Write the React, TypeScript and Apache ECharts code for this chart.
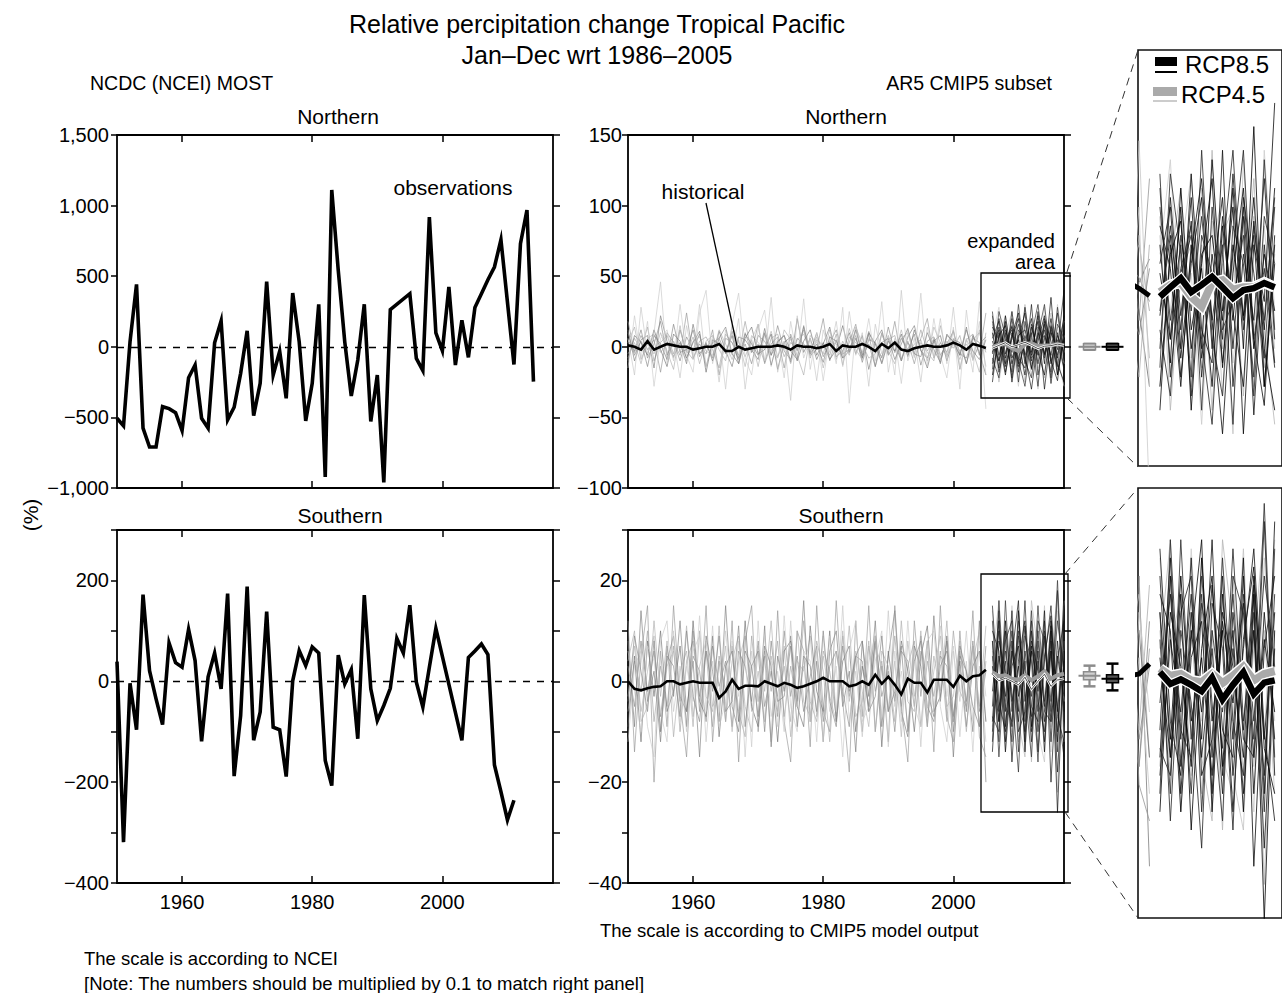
import React, { useEffect, useRef } from "react";
import * as echarts from "echarts";

const FONT = '"Liberation Sans", Arial, Helvetica, sans-serif';
const FIRST_YEAR = 1950;
const FUTURE_START = 2006;
const X_MIN = 1950;
const X_MAX = 2017;
const TICK_YEARS = [1960, 1980, 2000];

// ---------------- observations (NCDC / NCEI MOST) ----------------
const obsNorth = [
  -506, -560, 35, 442, -576, -710, -710, -424, -438, -466,
  -593, -219, -129, -506, -576, 28, 183, -518, -428, -188,
  113, -487, -259, 461, -200, -31, -365, 381, 35, -525,
  -259, 301, -922, 1111, 541, 35, -348, -94, 301, -529,
  -200, -960, 264, null, null, 376, -82, -169, 918, 99,
  -28, 424, -129, 188, -75, 278, 376, 475, 565, 758,
  null, -125, 730, 969, -247,
];
const obsSouth = [
  39, -319, -4, -96, 172, 21, -35, -86, 76, 37,
  28, 103, 41, -119, 9, 56, -15, 174, -188, -68,
  188, -117, -61, 138, -91, -96, -189, 1, 61, 31,
  68, 56, -157, -207, 52, -5, 23, -114, 171, -15,
  -78, -48, -14, 85, 56, 151, -2, -51, 28, 105,
  null, null, null, -117, 47, 60, 74, 53, -166, -219,
  -275, -236,
];

// ---------------- CMIP5 historical members, 1950-2005 ----------------
const histNorth = [
  [5,-3,12,-8,2,18,-6,4,-10,7,-2,9,-14,3,6,-5,11,-8,2,-12,8,4,-6,15,-3,-9,6,2,-4,10,-7,3,12,-5,-2,8,-11,5,3,-8,14,-4,6,-2,9,-13,4,7,-6,2,11,-5,-8,6,3,-2],
  [-8,6,-2,14,-10,3,8,-5,12,-3,-9,4,7,-2,-15,9,3,-6,18,-4,2,-11,6,9,-7,3,-2,12,-8,5,1,-6,9,-13,7,3,-4,11,-2,-7,5,8,-10,3,-5,12,-3,6,-9,4,-1,8,-12,5,10,-4],
  [12,-10,5,8,-15,22,4,-7,3,-12,16,-5,2,-8,11,-3,-14,7,5,-2,-9,13,-6,3,8,-11,20,-4,6,-9,2,14,-7,-3,10,-5,8,-16,4,12,-6,2,-10,7,15,-3,-8,5,-12,9,3,-6,14,-9,2,7],
  [-5,3,-12,6,9,-4,2,-8,15,-10,4,7,-3,-6,12,2,-9,5,-14,8,3,-2,11,-7,4,-12,5,9,-3,7,-15,4,2,-6,13,-2,-9,6,3,-11,8,-4,12,-6,2,5,-10,14,3,-7,6,-3,2,-9,12,-14],
  [18,-4,8,-2,5,-18,10,3,-6,24,-8,2,-5,12,-20,6,3,-9,10,-4,16,-12,2,7,-15,9,-3,14,-6,-2,20,-10,5,-8,3,16,-7,2,-14,10,-5,18,-9,4,-12,6,20,-8,3,-4,12,-16,5,9,-6,24],
  [-10,8,3,-6,12,-2,-14,9,4,-8,3,11,-18,5,2,-4,8,-12,6,14,-5,-2,9,-16,3,7,-10,4,12,-6,3,-9,-2,15,-4,6,-8,10,2,-12,4,-3,9,-7,12,-2,-15,4,8,-10,5,3,-12,8,-4,-20],
  [3,14,-9,2,-5,10,-3,-16,12,-4,7,-12,4,8,-2,-10,15,3,-7,5,-14,9,-2,-8,12,5,-6,-20,8,3,-5,12,-9,4,-6,14,2,-8,-5,9,-3,-12,6,10,-7,3,-4,-10,15,-6,2,-9,5,-3,-18,10],
  [6,-20,28,-5,10,46,-12,4,-22,15,-8,30,-15,8,-25,12,-6,20,-30,5,16,-10,35,-18,4,-38,22,-8,6,-24,12,-4,18,-14,25,-6,10,-28,16,-5,8,-20,40,-10,6,-25,14,-8,20,-12,28,-15,6,-18,32,-20],
  [-15,22,-8,18,-28,6,12,-10,30,-6,-18,24,40,-12,8,-30,16,38,-8,-20,12,26,-14,6,-22,18,-8,34,-16,10,-24,8,-12,28,-40,14,-6,20,-10,32,-18,6,-26,12,-8,38,-14,20,-6,-22,14,-30,26,-10,18,-44],
  [10,-6,4,-14,8,2,-9,16,-4,-2,12,-7,3,-10,6,14,-5,-12,9,2,-6,10,-13,4,8,-3,-9,15,-5,2,-11,7,4,-8,-3,12,-6,9,-14,3,6,-9,2,13,-5,-7,10,-2,-11,8,4,-6,12,-3,-9,5],
];
const histSouth = [
  [3,-5,8,-2,6,-7,4,9,-3,-6,5,2,-8,7,-1,4,-9,6,3,-4,8,-5,2,-7,10,-3,5,-6,1,7,-8,3,6,-2,-9,5,4,-6,8,-3,2,-10,6,4,-5,9,-2,-7,5,3,-8,6,-4,8,-6,2],
  [-6,4,-2,10,-8,3,-5,7,-10,4,8,-3,6,-9,5,-2,7,-6,-11,9,-4,6,-2,8,-7,3,-5,12,-4,-8,6,2,-7,9,-3,5,-10,7,-2,4,-6,9,-5,3,8,-9,4,-3,6,-8,10,-2,-5,7,-9,4],
  [8,-9,14,-4,2,-12,7,-3,12,-6,4,-15,9,2,-8,15,-5,-10,6,3,-7,11,-13,5,-2,9,-4,16,-8,4,-12,6,10,-5,2,-14,8,-3,12,-9,5,14,-6,-11,7,3,-9,13,-4,8,-15,5,2,-10,12,-20],
  [-3,7,-6,2,9,-10,3,6,-4,11,-7,3,8,-5,-2,7,-10,4,9,-6,2,-8,5,-3,7,-11,4,2,9,-7,5,-3,-8,10,-4,6,-2,-9,7,3,-6,4,-11,8,-3,6,-7,2,9,-5,-3,8,-6,4,10,-8],
  [12,-14,5,15,-20,6,-9,15,-4,-15,10,-6,15,-12,4,-8,12,-16,8,15,-10,5,-12,14,-8,-16,10,6,-13,15,-6,-10,16,-4,-18,12,-7,15,-10,3,-12,15,-5,-16,12,-3,8,-14,15,-7,-12,10,-6,14,-11,-15],
  [-9,5,-12,8,-3,10,-6,-2,7,-9,12,-4,-7,9,-11,3,6,-8,12,-5,-9,7,3,-12,6,8,-5,-9,11,-2,-6,10,-8,4,7,-10,3,-5,9,-13,6,-4,8,2,-10,5,11,-6,-3,9,-7,4,-9,3,6,-8],
  [4,10,-8,-5,12,-3,8,-11,2,6,-9,10,-3,-6,11,-8,4,9,-5,-10,7,-2,12,-6,3,-8,10,-4,-7,8,2,-12,6,-3,11,-7,-4,8,-10,6,3,-8,12,-4,-6,10,-9,5,-2,12,-8,3,-10,7,-5,11],
  [-12,3,6,-9,-15,8,12,-6,3,-10,6,9,-12,4,-6,10,-3,8,-15,6,-4,9,-7,2,-10,12,-5,3,-8,6,-12,9,-6,15,-8,2,-11,4,9,-7,14,-5,2,-9,6,-13,8,10,-5,-12,6,-4,10,-8,3,-12],
  [6,-2,-10,7,4,-6,-12,10,-8,3,-4,13,-6,11,-9,-4,8,-3,5,-13,12,-8,4,-9,13,-5,-10,6,4,-12,9,-6,3,-15,6,12,-8,-5,4,10,-13,6,-8,12,-5,-9,6,-6,11,-3,7,-11,4,-14,8,-3],
  [-4,9,2,-6,8,-10,5,3,-7,10,-3,-8,6,-2,9,-6,-4,11,-9,3,6,-10,8,-4,-3,7,-9,5,3,-6,10,-4,-9,7,-2,5,8,-6,-3,9,-6,-2,7,-10,4,8,-5,-8,3,6,-10,7,2,-5,-9,7],
];
const histMeanNorth = [1,0,-2,4,-2,0,2,1,0,0,-2,-1,0,0,2,-3,-3,0,-2,-1,0,0,0,1,0,-2,1,0,0,-1,0,2,-3,1,0,0,2,0,-3,2,-1,3,-2,-3,-1,0,1,0,0,1,3,1,-2,2,0.8,-0.8];
const histMeanSouth = [0,-1.5,-1.8,-1.4,-1.1,-1,0,0,-0.6,-0.3,0,-0.3,-0.3,-0.3,-3.3,-2,0.3,-1.5,-0.9,-0.9,-1,0,-0.5,-1,-0.3,-0.7,-1.3,-1,-0.5,0,0.7,0,0,0,-1,-0.7,0,-0.7,1.3,-0.5,0.9,-0.7,-2.6,0.5,-0.3,-0.3,-2.2,0.3,0.3,0.3,-1.1,1.1,0,1,1.2,2.3];

// ---------------- projections 2006-2017 ----------------
const rcp85North = [
  [10,-15,22,-8,5,-20,14,-6,18,-12,8,-4],
  [-12,20,-5,15,-18,8,-10,25,-6,12,-20,10],
  [18,-6,10,-22,12,4,-15,8,30,-10,5,-16],
  [-5,12,-18,6,20,-12,16,-4,-20,15,-8,22],
  [22,-10,5,14,-25,18,-8,-2,12,-22,16,6],
  [-20,8,15,-12,6,24,-16,10,-5,20,-12,-25],
  [6,18,-12,25,-8,-15,30,-20,8,-6,24,-10],
  [-8,-22,12,-4,16,-6,10,-28,20,4,-14,18],
  [14,5,-20,10,-12,28,-4,18,-30,10,-2,40],
  [-16,25,8,-18,30,-10,-22,14,6,-18,28,-8],
  [4,-10,18,-25,8,12,-6,22,-12,35,-20,6],
  [-4,14,-8,20,-14,2,20,-12,16,-26,10,-15],
  [25,-18,4,12,-10,-28,8,30,-8,14,-6,20],
  [-25,10,-14,8,24,-6,-30,4,22,-10,-24,12],
];
const rcp45North = [
  [12,-18,8,25,-10,15,-22,6,20,-8,14,-12],
  [-20,6,22,-14,10,-25,12,18,-6,24,-16,8],
  [8,28,-12,4,-28,10,20,-15,6,-20,30,-4],
  [-10,-4,16,-20,22,-8,6,-30,28,-12,4,18],
  [16,-25,4,10,-16,30,-12,8,-22,16,-8,-28],
];
const rcp85South = [
  [8,-6,12,-4,3,-10,7,-2,9,-8,5,-3],
  [-10,5,-3,10,-8,4,-12,8,-5,12,-6,8],
  [12,-8,4,-12,9,2,-7,15,-4,6,-10,10],
  [-5,14,-9,6,-3,11,-5,-8,12,-12,8,-6],
  [5,-12,16,-6,10,-8,14,-4,-10,8,-14,15],
  [-14,8,2,-9,14,-4,6,-14,5,13,-7,-12],
  [15,-4,-10,8,-6,16,-10,4,-12,6,-18,4],
  [-7,-10,8,12,-14,6,-3,10,-6,-8,18,-10],
  [10,6,-14,3,7,-12,10,-6,14,-20,4,12],
  [-12,16,-5,-8,12,-2,-15,12,8,-6,20,-8],
  [3,-8,10,-16,4,12,-9,6,-14,10,-26,6],
  [-2,10,-6,14,-10,-6,12,-10,4,15,-5,-15],
  [8,-15,6,-2,-18,9,4,-16,10,-4,12,2],
  [-8,12,-12,5,16,-14,8,2,-8,11,-12,18],
];
const rcp45South = [
  [6,-10,12,-6,8,-14,10,-4,15,-9,6,-12],
  [-9,12,-4,8,-12,6,-16,12,-6,10,-22,8],
  [14,-6,-8,15,-4,10,-8,-12,8,-14,14,-4],
  [-12,4,10,-10,14,-8,6,-10,-16,12,-6,16],
  [4,16,-14,6,-8,-15,16,6,-10,4,18,-10],
];
const rcp85MeanNorth = [-1,1,2.9,0,1.5,3.2,1,-1.3,0.4,0.8,1.9,1];
const rcp45MeanNorth = [0,1.5,2,-1,-3,2,2.5,0.5,1,1,2,1];
const rcp85MeanSouth = [1.4,0.1,0.6,0,-0.7,0.8,-1.6,0,1.4,-1.0,0.25,0.5];
const rcp45MeanSouth = [1.8,1.0,1.2,0.5,0.3,1.2,0.2,1.0,2.0,0.5,1.2,1.5];

// summary markers: [scenario, mean, whiskerLo, whiskerHi, boxLo, boxHi]
const markerScenarios = ["RCP4.5", "RCP8.5"];
const markersNorth = [
  [0, 0, -2.1, 2.1, -2.1, 2.1],
  [1, 0, -2.1, 2.1, -2.1, 2.1],
];
const markersSouth = [
  [0, 1.1, -1.0, 3.1, 0.3, 1.9],
  [1, 0.5, -1.8, 3.5, -0.3, 1.3],
];

const histColors = ["#8a8a8a", "#a2a2a2", "#7c7c7c", "#b4b4b4", "#959595", "#6f6f6f", "#adadad", "#c6c6c6", "#cbcbcb", "#858585"];
const rcp85Colors = ["#000", "#111", "#222", "#0a0a0a", "#2a2a2a"];
const rcp45Colors = ["#c2c2c2", "#b5b5b5", "#cccccc"];

const minus = (v: number) => (v < 0 ? "\u2212" : "") + Math.abs(v).toLocaleString("en-US");

function toPairs(vals: (number | null)[], start: number) {
  return vals.map((v, i) => [start + i, v]);
}

function buildOption() {
  const grids: any[] = [
    { left: 117, top: 135, width: 436, height: 353 },
    { left: 117, top: 530, width: 436, height: 353 },
    { left: 628, top: 135, width: 436, height: 353 },
    { left: 628, top: 530, width: 436, height: 353 },
    { left: 1138, top: 50, width: 159, height: 416, show: true, borderColor: "#111", borderWidth: 1.6 },
    { left: 1138, top: 488, width: 159, height: 430, show: true, borderColor: "#111", borderWidth: 1.6 },
    { left: 1078, top: 135, width: 46, height: 353 },
    { left: 1078, top: 530, width: 46, height: 353 },
  ];
  const xAxes: any[] = [];
  const yAxes: any[] = [];
  const axisLine = { show: true, onZero: false, lineStyle: { color: "#000", width: 1.8 } };
  const tickStyle = { color: "#000", width: 1.5 };
  const labelStyle = { color: "#000", fontSize: 20, fontFamily: FONT };

  function panel(grid: number, yMin: number, yMax: number, yInt: number, yFmt: (v: number) => string, showX: boolean, yMargin: number) {
    const xi = xAxes.length;
    xAxes.push({
      type: "value", gridIndex: grid, position: "bottom", min: X_MIN, max: X_MAX,
      axisLine, splitLine: { show: false },
      axisTick: { show: true, inside: true, length: 7, customValues: TICK_YEARS, lineStyle: tickStyle },
      axisLabel: { show: showX, customValues: TICK_YEARS, formatter: (v: number) => String(v), margin: 9, ...labelStyle },
    });
    xAxes.push({
      type: "value", gridIndex: grid, position: "top", min: X_MIN, max: X_MAX,
      axisLine, splitLine: { show: false },
      axisTick: { show: true, inside: true, length: 7, customValues: TICK_YEARS, lineStyle: tickStyle },
      axisLabel: { show: false },
    });
    const yi = yAxes.length;
    yAxes.push({
      type: "value", gridIndex: grid, position: "left", min: yMin, max: yMax, interval: yInt,
      axisLine, splitLine: { show: false },
      axisTick: { show: true, inside: false, length: 6, lineStyle: tickStyle },
      axisLabel: { formatter: yFmt, margin: yMargin, ...labelStyle },
    });
    yAxes.push({
      type: "value", gridIndex: grid, position: "right", min: yMin, max: yMax, interval: yInt,
      axisLine, splitLine: { show: false },
      axisTick: { show: true, inside: false, length: 7, lineStyle: tickStyle },
      axisLabel: { show: false },
    });
    return { x: xi, y: yi };
  }
  function hiddenPanel(grid: number, xMin: number, xMax: number, yMin: number, yMax: number, category = false) {
    const xi = xAxes.length;
    xAxes.push(category
      ? { type: "category", gridIndex: grid, data: markerScenarios, show: false }
      : { type: "value", gridIndex: grid, min: xMin, max: xMax, show: false });
    const yi = yAxes.length;
    yAxes.push({ type: "value", gridIndex: grid, min: yMin, max: yMax, show: false });
    return { x: xi, y: yi };
  }

  const pObsN = panel(0, -1000, 1500, 500, minus, false, 8);
  const pObsS = panel(1, -400, 300, 100, (v) => (v % 200 === 0 ? minus(v) : ""), true, 8);
  const pModN = panel(2, -100, 150, 50, minus, false, 6);
  const pModS = panel(3, -40, 30, 10, (v) => (v % 20 === 0 ? minus(v) : ""), true, 6);
  const pExpN = hiddenPanel(4, 2003.9, 2017.7, -36.8, 51.2);
  const pExpS = hiddenPanel(5, 2003.9, 2017.7, -25.7, 21.7);
  const pMkN = hiddenPanel(6, 0, 1, -100, 150, true);
  const pMkS = hiddenPanel(7, 0, 1, -40, 30, true);

  const series: any[] = [];
  const line = (p: { x: number; y: number }, data: any[], color: string, width: number, z: number, extra: any = {}) => {
    series.push({
      type: "line", xAxisIndex: p.x, yAxisIndex: p.y, data, showSymbol: false, symbol: "none",
      silent: true, z, lineStyle: { color, width, join: "miter", miterLimit: 6 }, ...extra,
    });
  };

  const zeroLine = {
    markLine: {
      silent: true, symbol: "none", label: { show: false },
      lineStyle: { color: "#000", type: [7, 7], width: 1.3 }, data: [{ yAxis: 0 }],
    },
  };
  line(pObsN, toPairs(obsNorth, FIRST_YEAR), "#000", 3.6, 5, { connectNulls: true, ...zeroLine });
  line(pObsS, toPairs(obsSouth, FIRST_YEAR), "#000", 3.6, 5, { connectNulls: true, ...zeroLine });

  function modelPanel(p: any, hist: number[][], hMean: number[], r85: number[][], r45: number[][], m85: number[], m45: number[], expanded: boolean) {
    const w = expanded ? 0.8 : 0.65;
    hist.forEach((h, i) => line(p, toPairs(h, FIRST_YEAR), histColors[i % histColors.length], w, 2));
    r45.forEach((h, i) => line(p, toPairs(h, FUTURE_START), rcp45Colors[i % rcp45Colors.length], w, 3));
    r85.forEach((h, i) => line(p, toPairs(h, FUTURE_START), rcp85Colors[i % rcp85Colors.length], w, 3));
    if (expanded) {
      line(p, toPairs(hMean, FIRST_YEAR), "#000", 5, 6);
      line(p, toPairs(m45, FUTURE_START), "#fff", 11, 6);
      line(p, toPairs(m45, FUTURE_START), "#aaa", 8, 7);
      line(p, toPairs(m85, FUTURE_START), "#fff", 9, 8);
      line(p, toPairs(m85, FUTURE_START), "#000", 6.5, 9);
    } else {
      line(p, toPairs(hMean, FIRST_YEAR), "#000", 2.6, 6);
      line(p, toPairs(m45, FUTURE_START), "#9a9a9a", 4, 6);
      line(p, toPairs(m85, FUTURE_START), "#fff", 2.4, 7);
      line(p, toPairs(m85, FUTURE_START), "#222", 0.8, 8);
    }
  }
  modelPanel(pModN, histNorth, histMeanNorth, rcp85North, rcp45North, rcp85MeanNorth, rcp45MeanNorth, false);
  modelPanel(pModS, histSouth, histMeanSouth, rcp85South, rcp45South, rcp85MeanSouth, rcp45MeanSouth, false);
  modelPanel(pExpN, histNorth, histMeanNorth, rcp85North, rcp45North, rcp85MeanNorth, rcp45MeanNorth, true);
  modelPanel(pExpS, histSouth, histMeanSouth, rcp85South, rcp45South, rcp85MeanSouth, rcp45MeanSouth, true);

  const markerColors = ["#8c8c8c", "#000"];
  const markerFill = ["#d0d0d0", "#555"];
  const renderMarker = (params: any, api: any) => {
    const c = api.value(0);
    const mid = api.coord([c, api.value(1)]);
    const lo = api.coord([c, api.value(2)]);
    const hi = api.coord([c, api.value(3)]);
    const bLo = api.coord([c, api.value(4)]);
    const bHi = api.coord([c, api.value(5)]);
    const col = markerColors[params.dataIndex];
    const fill = markerFill[params.dataIndex];
    const x = mid[0];
    return {
      type: "group",
      children: [
        { type: "line", shape: { x1: x, y1: hi[1], x2: x, y2: lo[1] }, style: { stroke: col, lineWidth: 2.2 } },
        { type: "line", shape: { x1: x - 6, y1: hi[1], x2: x + 6, y2: hi[1] }, style: { stroke: col, lineWidth: 2.5 } },
        { type: "line", shape: { x1: x - 6, y1: lo[1], x2: x + 6, y2: lo[1] }, style: { stroke: col, lineWidth: 2.5 } },
        { type: "rect", shape: { x: x - 6, y: bHi[1], width: 12, height: Math.max(2, bLo[1] - bHi[1]) }, style: { fill, stroke: col, lineWidth: 1.5 } },
        { type: "line", shape: { x1: x - 11, y1: mid[1], x2: x + 11, y2: mid[1] }, style: { stroke: col, lineWidth: 2 } },
      ],
    };
  };
  series.push({ type: "custom", xAxisIndex: pMkN.x, yAxisIndex: pMkN.y, data: markersNorth, renderItem: renderMarker, silent: true, z: 5 });
  series.push({ type: "custom", xAxisIndex: pMkS.x, yAxisIndex: pMkS.y, data: markersSouth, renderItem: renderMarker, silent: true, z: 5 });

  const txt = (x: number, y: number, text: string, size: number, align = "center", extra: any = {}) => ({
    type: "text", x, y, z: 100, silent: true,
    style: { text, fontSize: size, fontFamily: FONT, fill: "#000", align, verticalAlign: "middle" },
    ...extra,
  });
  const dash = (x1: number, y1: number, x2: number, y2: number) => ({
    type: "line", z: 100, silent: true, shape: { x1, y1, x2, y2 },
    style: { stroke: "#333", lineWidth: 1, lineDash: [8, 6] },
  });

  const graphic: any[] = [
    txt(597, 24, "Relative percipitation change Tropical Pacific", 25),
    txt(597, 55, "Jan\u2013Dec wrt 1986\u20132005", 25),
    txt(90, 83, "NCDC (NCEI) MOST", 19.5, "left"),
    txt(1052, 83, "AR5 CMIP5 subset", 19.5, "right"),
    txt(338, 116, "Northern", 21),
    txt(340, 515, "Southern", 21),
    txt(846, 116, "Northern", 21),
    txt(841, 515, "Southern", 21),
    txt(453, 187, "observations", 21),
    txt(703, 191, "historical", 21),
    txt(1055, 241, "expanded", 20, "right"),
    txt(1055, 262, "area", 20, "right"),
    txt(30, 515, "(%)", 21, "center", { rotation: Math.PI / 2 }),
    txt(600, 930, "The scale is according to CMIP5 model output", 18.5, "left"),
    txt(84, 958, "The scale is according to NCEI", 18.5, "left"),
    txt(84, 983, "[Note: The numbers should be multiplied by 0.1 to match right panel]", 18.5, "left"),
    { type: "line", z: 100, silent: true, shape: { x1: 706, y1: 203, x2: 737, y2: 346 }, style: { stroke: "#000", lineWidth: 1.3 } },
    { type: "rect", z: 100, silent: true, shape: { x: 981, y: 273, width: 89, height: 125 }, style: { fill: "none", stroke: "#000", lineWidth: 1.3 } },
    { type: "rect", z: 100, silent: true, shape: { x: 981, y: 574, width: 87, height: 238 }, style: { fill: "none", stroke: "#000", lineWidth: 1.3 } },
    dash(1067, 272, 1138, 50),
    dash(1067, 398, 1138, 467),
    dash(1065, 574, 1138, 488),
    dash(1065, 812, 1138, 918),
    { type: "rect", z: 100, silent: true, shape: { x: 1155, y: 57, width: 22, height: 9 }, style: { fill: "#000" } },
    { type: "line", z: 100, silent: true, shape: { x1: 1155, y1: 72, x2: 1177, y2: 72 }, style: { stroke: "#000", lineWidth: 2 } },
    { type: "rect", z: 100, silent: true, shape: { x: 1153, y: 87, width: 24, height: 9 }, style: { fill: "#aaa" } },
    { type: "line", z: 100, silent: true, shape: { x1: 1153, y1: 101, x2: 1177, y2: 101 }, style: { stroke: "#ccc", lineWidth: 2 } },
    txt(1185, 64, "RCP8.5", 24, "left"),
    txt(1181, 94, "RCP4.5", 24, "left"),
  ];

  return {
    animation: false,
    backgroundColor: "#fff",
    grid: grids,
    xAxis: xAxes,
    yAxis: yAxes,
    series,
    graphic,
  };
}

export default function App() {
  const ref = useRef<HTMLDivElement>(null);
  useEffect(() => {
    if (!ref.current) return;
    const chart = echarts.init(ref.current, null, { renderer: "svg" });
    chart.setOption(buildOption() as any);
    return () => chart.dispose();
  }, []);
  return (
    <div
      ref={ref}
      style={{ position: "fixed", left: 0, top: 0, width: 1282, height: 993, background: "#fff" }}
    />
  );
}
